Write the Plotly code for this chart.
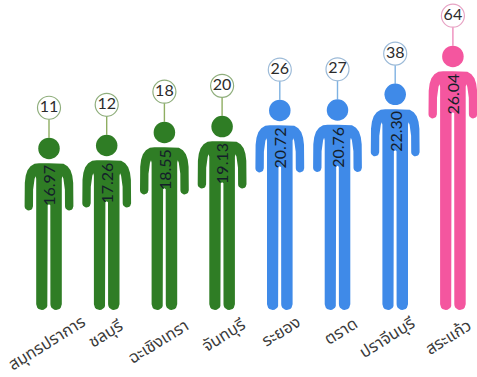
import math
import plotly.graph_objects as go

provinces = ["สมุทรปราการ", "ชลบุรี", "ฉะเชิงเทรา", "จันทบุรี", "ระยอง", "ตราด", "ปราจีนบุรี", "สระแก้ว"]
rates = [16.97, 17.26, 18.55, 19.13, 20.72, 20.76, 22.30, 26.04]
rates_text = ["16.97", "17.26", "18.55", "19.13", "20.72", "20.76", "22.30", "26.04"]
counts = [11, 12, 18, 20, 26, 27, 38, 64]
groups = ["g", "g", "g", "g", "b", "b", "b", "p"]

FILL = {"g": "#2f7d25", "b": "#3f8ae8", "p": "#f4569f"}
RING = {"g": "#8fae7c", "b": "#9dbbd8", "p": "#e7a3c4"}
STEM = {"g": "#8fae62", "b": "#7fb2e2", "p": "#ee8cbc"}
LABEL_SHIFT = [(-3, 343), (-1, 333), (-6, 341), (1, 335), (1, 331), (3, 331), (-8, 337), (-5, 337)]

W, H = 477, 377
PX_X = 57.7     # pixels per category
PX_Y = 10.15    # pixels per rate unit
BASE = 310      # pixel row of rate 0
X0 = 49         # pixel column of first category


def arc(cx, cy, r, a0, a1, n=10):
    return [(cx + r * math.cos(math.radians(a0 + (a1 - a0) * k / n)),
             cy + r * math.sin(math.radians(a0 + (a1 - a0) * k / n))) for k in range(n + 1)]


def outline(total):
    """Right half of the person, dx/dy in pixels from the top of the head; y down."""
    pts = [(0, 25.5), (10, 25.5), (14.5, 26), (18.5, 28.5), (21.5, 32.5), (23.3, 38), (24.2, 45), (24.4, 68.5)]
    pts += arc(20.2, 68.5, 4.2, 0, 180)
    pts += [(15.9, 52), (15.4, 46), (14.4, 41), (13.4, 38.5), (12.8, 41)]
    pts += arc(7.1, total - 5.7, 5.7, 0, 180)
    pts += [(1.3, 67.5), (0, 66.5)]
    return pts


fig = go.Figure()
annotations = []
for i, (name, val, vtxt, cnt, grp) in enumerate(zip(provinces, rates, rates_text, counts, groups)):
    total = val * PX_Y
    half = outline(total)
    full = half + [(-dx, dy) for dx, dy in reversed(half)]
    xs = [i + dx / PX_X for dx, dy in full]
    ys = [val - dy / PX_Y for dx, dy in full]
    fig.add_trace(go.Scatter(x=xs, y=ys, mode="lines", fill="toself", fillcolor=FILL[grp],
                             line=dict(width=0), hoverinfo="skip", showlegend=False))
    # stem
    fig.add_trace(go.Scatter(x=[i, i], y=[val + 30 / PX_Y, val], mode="lines",
                             line=dict(color=STEM[grp], width=1.4), hoverinfo="skip", showlegend=False))
    # head
    fig.add_trace(go.Scatter(x=[i], y=[val - 10.7 / PX_Y], mode="markers",
                             marker=dict(size=21.5, color=FILL[grp], line=dict(width=0)),
                             hoverinfo="skip", showlegend=False))
    # count bubble
    fig.add_trace(go.Scatter(x=[i], y=[val + 30 / PX_Y], mode="markers+text", text=[str(cnt)],
                             textposition="middle center",
                             textfont=dict(family="Lato, Noto Sans, sans-serif", size=16, color="#2b2b2b"),
                             marker=dict(size=23, color="#ffffff", line=dict(color=RING[grp], width=1.2)),
                             hoverinfo="skip", showlegend=False))
    # rate inside the body
    annotations.append(dict(x=i, y=val - 48 / PX_Y, xref="x", yref="y", text=vtxt, textangle=-90,
                            showarrow=False, xanchor="center", yanchor="middle",
                            font=dict(family="Lato, Noto Sans, sans-serif", size=16, color="#14202a")))
    # province name
    dx, py = LABEL_SHIFT[i]
    annotations.append(dict(x=i, y=0, xref="x", yref="y", text=name, textangle=-32, showarrow=False,
                            xanchor="center", yanchor="middle", xshift=dx, yshift=BASE - py,
                            font=dict(family="Noto Sans Thai, Noto Sans, Loma, sans-serif", size=16.5, color="#3a3a3a")))

fig.update_layout(
    width=W, height=H, margin=dict(l=0, r=0, t=0, b=0),
    paper_bgcolor="#ffffff", plot_bgcolor="#ffffff", showlegend=False,
    xaxis=dict(range=[-X0 / PX_X, (W - X0) / PX_X], visible=False, fixedrange=True),
    yaxis=dict(range=[(BASE - H) / PX_Y, BASE / PX_Y], visible=False, fixedrange=True),
    annotations=annotations,
)
fig.write_html("out.html", config=dict(displayModeBar=False),
               post_script="document.body.style.margin='0';document.documentElement.style.overflow='hidden';")
